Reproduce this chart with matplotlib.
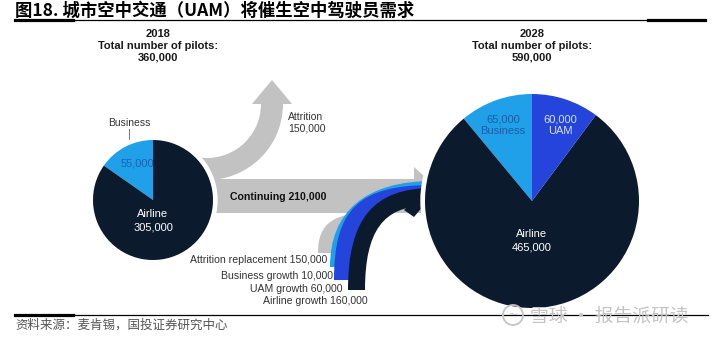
import matplotlib.pyplot as plt
from matplotlib.patches import Polygon, Circle, Wedge, PathPatch
from matplotlib.path import Path

plt.rcParams['font.family'] = ['Liberation Sans', 'Noto Sans CJK SC']

# pilot numbers
years = [2018, 2028]
totals = [360000, 590000]
labels_2018 = ['Business', 'Airline']
pilots_2018 = [55000, 305000]
labels_2028 = ['Business', 'Airline', 'UAM']
pilots_2028 = [65000, 465000, 60000]
attrition = 150000
continuing = 210000
inflow_labels = ['Attrition replacement', 'Business growth', 'UAM growth', 'Airline growth']
inflow_values = [150000, 10000, 60000, 160000]

title = '图18. 城市空中交通（UAM）将催生空中驾驶员需求'
source = '资料来源：麦肯锡，国投证券研究中心'

NAVY = '#0b1a2d'
SKY = '#1fa0e8'
BLUE = '#2444dc'
GREY = '#c2c2c2'
TXT = '#333333'
CJK = ['Noto Sans CJK SC', 'DejaVu Sans']

fig = plt.figure(figsize=(7.16, 3.38), dpi=100)
ax = fig.add_axes([0, 0, 1, 1])


def flow(p0, p3, q0, q3, k_out, k_in):
    # curved band: outer edge p0->p3, inner edge q0->q3, both rising then turning right
    def ctrl(a, b, k):
        return (a[0], a[1] - k * (a[1] - b[1])), (b[0] - k * (b[0] - a[0]), b[1])
    p1, p2 = ctrl(p0, p3, k_out)
    q1, q2 = ctrl(q0, q3, k_in)
    verts = [p0, p1, p2, p3, q3, q2, q1, q0, p0]
    codes = [Path.MOVETO, Path.CURVE4, Path.CURVE4, Path.CURVE4, Path.LINETO,
             Path.CURVE4, Path.CURVE4, Path.CURVE4, Path.CLOSEPOLY]
    return Path(verts, codes)


# attrition arrow, leaving upwards
ax.add_patch(Wedge((207, 104), 76, 0, 100, width=22, color=GREY, lw=0, zorder=2))
ax.add_patch(Polygon([(252, 104), (292, 104), (272, 80)], color=GREY, lw=0, zorder=2))

# continuing arrow
ax.add_patch(Polygon([(195, 179), (414, 179), (414, 167), (446, 196), (430, 213), (195, 213)],
                     color=GREY, lw=0, zorder=2))

# replacement / growth inflows
gp0, gp3 = (318, 253), (380, 212)
g1, g2 = (318, 253 - 0.75 * 41), (380 - 0.75 * 62, 212)
ax.add_patch(PathPatch(Path([gp0, g1, g2, gp3, (380, 205), (346, 253), gp0],
                            [Path.MOVETO, Path.CURVE4, Path.CURVE4, Path.CURVE4,
                             Path.LINETO, Path.LINETO, Path.CLOSEPOLY]),
                       color=GREY, lw=0, zorder=2))
ax.add_patch(PathPatch(flow((330, 267), (433, 181), (346, 267), (433, 191), 0.65, 0.7),
                       color=SKY, lw=0, zorder=3))
ax.add_patch(PathPatch(flow((334, 280), (433, 185), (357, 280), (433, 197), 0.75, 0.7),
                       color=BLUE, lw=0, zorder=3.1))
ax.add_patch(PathPatch(flow((348, 290), (433, 188), (365, 290), (426, 206), 0.7, 0.7),
                       color=NAVY, lw=0, zorder=3.2))
ax.add_patch(Polygon([(404, 210), (414, 217), (430, 198), (420, 196)], color=NAVY, lw=0, zorder=3.2))

# pies with a white rim
centers = [(153, 200), (532, 201)]
radii = [60, 107]
for (cx, cy), r in zip(centers, radii):
    ax.add_patch(Circle((cx, cy), r + 4, color='white', zorder=4))

# y axis points down, so startangle=-90 is the top and counterclock=False runs anticlockwise on screen
ax.pie(pilots_2018, colors=[SKY, NAVY], center=centers[0], radius=radii[0], startangle=-90,
       counterclock=False, frame=True, wedgeprops=dict(lw=0, zorder=5))
ax.pie(pilots_2028, colors=[SKY, NAVY, BLUE], center=centers[1], radius=radii[1], startangle=-90,
       counterclock=False, frame=True, wedgeprops=dict(lw=0, zorder=5))

ax.set_xlim(0, 716)
ax.set_ylim(338, 0)
ax.set_aspect('auto')
ax.axis('off')

# headers
for x, yr, tot in zip([158, 532], years, totals):
    ax.text(x, 46, f'{yr}\nTotal number of pilots:\n{tot:,}', ha='center', va='center',
            fontsize=8, fontweight='bold', color='#1a1a1a', linespacing=1.2)

# pie labels
ax.text(137, 163, f'{pilots_2018[0]:,}', ha='center', va='center', fontsize=8, color='#1763b3', zorder=6)
ax.text(129, 123, labels_2018[0], ha='center', va='center', fontsize=7.5, color=TXT)
ax.plot([128.5, 128.5], [129, 146], color='#777777', lw=0.7, zorder=3)
ax.text(153, 220.5, f'{labels_2018[1]}\n{pilots_2018[1]:,}', ha='center', va='center',
        fontsize=8, color='white', linespacing=1.4, zorder=6)
ax.text(503, 125, f'{pilots_2028[0]:,}\n{labels_2028[0]}', ha='center', va='center',
        fontsize=8, color='#1a5ea8', linespacing=1.25, zorder=6)
ax.text(560, 125, f'{pilots_2028[2]:,}\n{labels_2028[2]}', ha='center', va='center',
        fontsize=8, color='#d6e0ff', linespacing=1.25, zorder=6)
ax.text(532, 240.5, f'{labels_2028[1]}\n{pilots_2028[1]:,}', ha='center', va='center',
        fontsize=8, color='white', linespacing=1.4, zorder=6)

# flow labels
ax.text(288, 122.5, f'Attrition\n{attrition:,}', ha='left', va='center', fontsize=7.5,
        color=TXT, linespacing=1.15)
ax.text(278, 197, f'Continuing {continuing:,}', ha='center', va='center', fontsize=7.6,
        fontweight='bold', color='#111111', zorder=6)
for lab, v, x, y in zip(inflow_labels, inflow_values, [327, 333, 343, 368], [260, 276, 289, 301]):
    ax.text(x, y, f'{lab} {v:,}', ha='right', va='center', fontsize=7.6, color=TXT, zorder=6)

# title, rules and source
ax.text(15, 11, title, ha='left', va='center', fontsize=12.5, fontweight='bold',
        family=CJK, color='black')
ax.plot([15, 705], [20, 20], color='black', lw=0.9)
ax.plot([15, 73], [20, 20], color='black', lw=2.3)
ax.plot([648, 705], [20, 20], color='black', lw=2.3)
ax.plot([15, 708], [315, 315], color='black', lw=0.9, zorder=3)
ax.plot([15, 73], [315, 315], color='black', lw=2.3)
ax.text(15, 325, source, ha='left', va='center', fontsize=9, family=CJK, color='#555555')

# watermark
ax.add_patch(Circle((513, 315), 10, fill=False, ec='#c4c4c4', lw=1.3, zorder=7))
ax.text(513, 315, '~', ha='center', va='center', fontsize=11, color='#c4c4c4', zorder=7)
ax.text(530, 316, '雪球 · 报告派研读', ha='left', va='center', fontsize=13.5, family=CJK,
        color='#c4c4c4', zorder=7)

fig.savefig('out.png', dpi=100)
